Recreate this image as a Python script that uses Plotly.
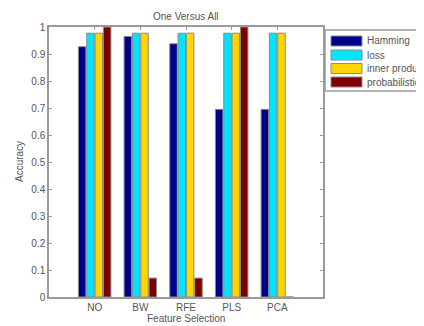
import plotly.graph_objects as go

categories = ["NO", "BW", "RFE", "PLS", "PCA"]
series_names = ["Hamming", "loss", "inner product", "probabilistic"]
hamming = [0.927, 0.965, 0.938, 0.695, 0.695]
loss = [0.977, 0.977, 0.977, 0.977, 0.977]
inner_product = [0.977, 0.977, 0.977, 0.977, 0.977]
probabilistic = [1.0, 0.07, 0.07, 1.0, 0.0]
y_ticks = [0, 0.1, 0.2, 0.3, 0.4, 0.5, 0.6, 0.7, 0.8, 0.9, 1]

colors = ["#00008F", "#00E5FF", "#FFD500", "#7F0000"]
series = [hamming, loss, inner_product, probabilistic]

# page body has an 8px margin, so the figure is sized to fill the rest of the window
OFF = 8
SW, SH = 424, 326
W, H = SW - OFF, SH - OFF
L, R, T, B = 49, 323, 27, 297  # plot area in screen pixels
txt = "#555555"

fig = go.Figure()
for name, vals, c in zip(series_names, series, colors):
    fig.add_trace(go.Bar(
        x=categories, y=vals, name=name,
        marker=dict(color=c, line=dict(color="#8a8a8a", width=1)),
        showlegend=False,
    ))

font = dict(family="Liberation Sans, Arial, sans-serif", size=10, color=txt)

fig.update_layout(
    width=W, height=H, autosize=False,
    margin=dict(l=L - OFF, r=SW - R, t=T - OFF, b=SH - B, pad=0, autoexpand=False),
    paper_bgcolor="white", plot_bgcolor="white",
    barmode="group", bargap=0.27, bargroupgap=0.1,
    font=font, showlegend=False,
    xaxis=dict(range=[-1, 5], showline=True, linecolor="#9a9a9a", linewidth=1.5,
               mirror="ticks", ticks="inside", ticklen=3, tickcolor="#9a9a9a",
               showgrid=False, zeroline=False, automargin=False),
    yaxis=dict(range=[0, 1], tickvals=y_ticks, ticktext=[f"{v:g}" for v in y_ticks],
               showline=True, linecolor="#9a9a9a", linewidth=1.5,
               mirror="ticks", ticks="inside", ticklen=3, tickcolor="#9a9a9a",
               showgrid=False, zeroline=False, automargin=False),
)

def px(x):
    return (x - L) / (R - L)

def py(y):
    return (B - y) / (B - T)

# Title and axis titles
fig.add_annotation(xref="paper", yref="paper", x=px(186), y=py(16), text="One Versus All",
                   showarrow=False, xanchor="center", yanchor="middle", font=dict(size=10, color=txt))
fig.add_annotation(xref="paper", yref="paper", x=px(186), y=py(318), text="Feature Selection",
                   showarrow=False, xanchor="center", yanchor="middle", font=dict(size=10, color=txt))
fig.add_annotation(xref="paper", yref="paper", x=px(19), y=py(162), text="Accuracy", textangle=-90,
                   showarrow=False, xanchor="center", yanchor="middle", font=dict(size=10, color=txt))

# Legend drawn in paper coordinates (MATLAB-style wide swatches)
fig.add_shape(type="rect", xref="paper", yref="paper",
              x0=px(325), x1=px(440), y0=py(91), y1=py(30),
              line=dict(color="#9a9a9a", width=1.5), fillcolor="white", layer="below")
row_y = [41, 55, 68.5, 82]
for name, c, ry in zip(series_names, colors, row_y):
    fig.add_shape(type="rect", xref="paper", yref="paper",
                  x0=px(331), x1=px(362), y0=py(ry + 5), y1=py(ry - 5),
                  line=dict(color="#8a8a8a", width=1), fillcolor=c)
    fig.add_annotation(xref="paper", yref="paper", x=px(365), y=py(ry),
                       text=name, showarrow=False, xanchor="left", yanchor="middle",
                       font=dict(size=10, color=txt))

fig.write_html("out.html")
